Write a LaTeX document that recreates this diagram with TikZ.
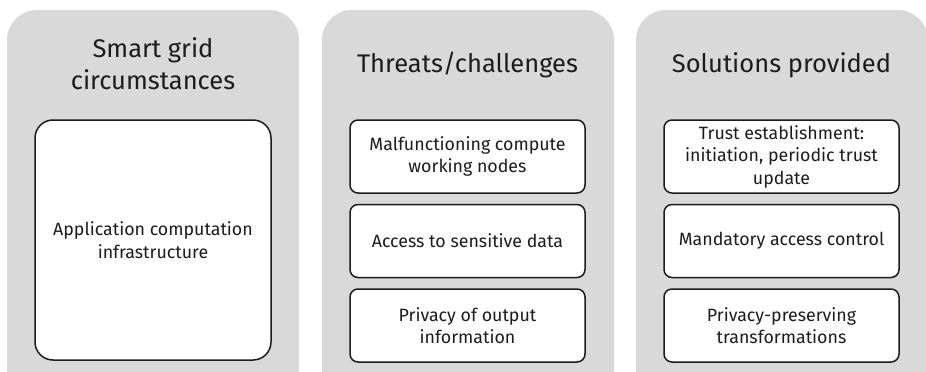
\documentclass[tikz,border=0pt]{standalone}
\usepackage{fontspec}
\setmainfont{Fira Sans}
\usetikzlibrary{positioning}
\definecolor{panelgray}{RGB}{217,217,217}
\definecolor{inkgray}{RGB}{28,28,28}
\tikzset{
  panel/.style={fill=panelgray, rounded corners=30pt},
  paneltitle/.style={text=inkgray, align=center, font=\fontsize{25.5}{32}\selectfont},
  itembox/.style={draw=inkgray, line width=1.5pt, fill=white, rounded corners=8pt,
    align=center, minimum width=235pt, minimum height=73pt, inner sep=0pt,
    text=inkgray, font=\fontsize{17.8}{22.5}\selectfont},
}

\begin{document}
\begin{tikzpicture}[x=1pt,y=-1pt]
    \useasboundingbox (0,0) rectangle (926,372);
    \clip (0,0) rectangle (926,372);
    % grey columns, cut off at the bottom
    \foreach \x in {7,322,636} {
        \fill[panel] (\x,10) rectangle ++(292,400);
    }
    % column heads
    \node[paneltitle] (headgrid) at (153,64) {Smart grid\\circumstances};
    \node[paneltitle] (headthreat) at (467.5,65) {Threats/challenges};
    \node[paneltitle] (headsol) at (781.5,65) {Solutions provided};
    % left column
    \node[itembox, minimum width=236pt, minimum height=240pt, rounded corners=18pt]
        (infra) at (153,240) {Application computation\\infrastructure};
    % middle column
    \node[itembox] (threatnodes) at (467.5,156.5) {Malfunctioning compute\\working nodes};
    \node[itembox, below=10pt of threatnodes] (threatdata) {Access to sensitive data};
    \node[itembox, below=10pt of threatdata] (threatprivacy) {Privacy of output\\information};
    % right column
    \node[itembox] (soltrust) at (781.5,156.5) {Trust establishment:\\initiation, periodic trust\\update};
    \node[itembox, below=10pt of soltrust] (solaccess) {Mandatory access control};
    \node[itembox, below=10pt of solaccess] (solprivacy) {Privacy-preserving\\transformations};
\end{tikzpicture}
\end{document}
